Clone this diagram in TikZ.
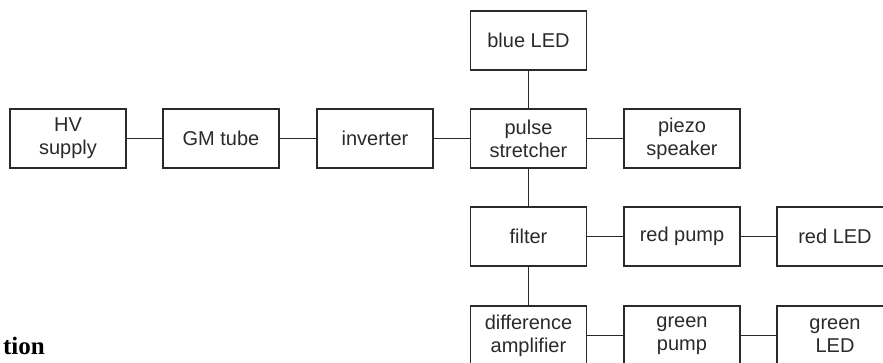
\documentclass[tikz,border=0pt]{standalone}
\usepackage{fontspec}
\setmainfont{Liberation Serif}
\newfontfamily\boxfont{Liberation Sans}
\definecolor{ink}{HTML}{2A2A2A}
\begin{document}
\begin{tikzpicture}[x=1pt,y=-1pt,
  blk/.style={draw=ink, line width=1.4pt, minimum width=116pt, minimum height=59pt,
    inner sep=0pt, align=center, text=ink,
    font=\boxfont\fontsize{20}{23}\selectfont},
  wire/.style={draw=ink, line width=1.4pt}]
\useasboundingbox (0,0) rectangle (883,362);
\clip (0,0) rectangle (883,362);
\node[blk] (hv)    at (68,138.5)   {HV\\supply};
\node[blk] (gm)    at (221,138.5)  {GM tube};
\node[blk] (inv)   at (375,138.5)  {inverter};
\node[blk] (pulse) at (528.5,138.5){pulse\\stretcher};
\node[blk] (piezo) at (682,138.5)  {piezo\\speaker};
\node[blk] (blue)  at (528.5,40.5) {blue LED};
\node[blk] (filt)  at (528.5,236.5){filter};
\node[blk] (rpump) at (682,236.5)  {red pump};
\node[blk] (rled)  at (835,236.5)  {red LED};
\node[blk] (diff)  at (528.5,335.5){difference\\amplifier};
\node[blk] (gpump) at (682,335.5)  {green\\pump};
\node[blk] (gled)  at (835,335.5)  {green\\LED};
\draw[wire] (hv) -- (gm);
\draw[wire] (gm) -- (inv);
\draw[wire] (inv) -- (pulse);
\draw[wire] (pulse) -- (piezo);
\draw[wire] (blue) -- (pulse);
\draw[wire] (pulse) -- (filt);
\draw[wire] (filt) -- (rpump);
\draw[wire] (rpump) -- (rled);
\draw[wire] (filt) -- (diff);
\draw[wire] (diff) -- (gpump);
\draw[wire] (gpump) -- (gled);
\node[anchor=base east, inner sep=0pt, font=\bfseries\fontsize{25}{30}\selectfont] (tion) at (45,354) {tion};
\end{tikzpicture}
\end{document}
